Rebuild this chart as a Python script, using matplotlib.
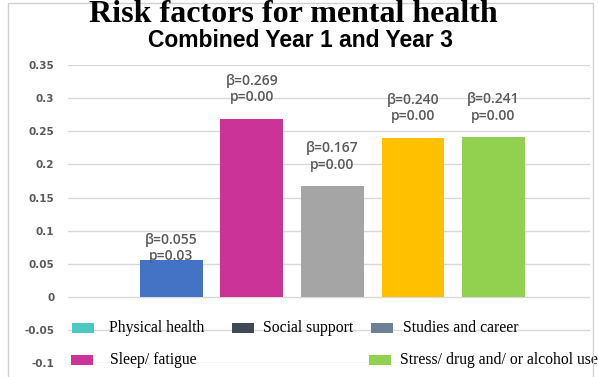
import matplotlib.pyplot as plt
from matplotlib.patches import Rectangle

# bar data (first slot "Physical health" has no bar)
values = [0.055, 0.269, 0.167, 0.240, 0.241]
betas = ["β=0.055", "β=0.269", "β=0.167", "β=0.240", "β=0.241"]
pvals = ["p=0.03", "p=0.00", "p=0.00", "p=0.00", "p=0.00"]
bar_colors = ["#4472C4", "#CC3399", "#A5A5A5", "#FFC000", "#92D050"]

legend_labels = ["Physical health", "Social support", "Studies and career",
                 "Sleep/ fatigue", "Stress/ drug and/ or alcohol use"]
legend_colors = ["#4BC9C0", "#3F4A56", "#6E8096", "#CC3399", "#92D050"]

yticks = [-0.1, -0.05, 0, 0.05, 0.1, 0.15, 0.2, 0.25, 0.3, 0.35]
ytick_labels = ["-0.1", "-0.05", "0", "0.05", "0.1", "0.15", "0.2", "0.25", "0.3", "0.35"]

fig = plt.figure(figsize=(5.98, 3.77), dpi=100)
ax = fig.add_axes([0.114, 0.037, 0.873, 0.790])

x = list(range(len(values)))
ax.bar(x, values, width=0.78, color=bar_colors, zorder=3)

ax.set_xlim(-1.28, 5.2)
ax.set_ylim(-0.1, 0.35)
ax.set_yticks(yticks)
ax.set_yticklabels(ytick_labels)
ax.set_xticks([])
ax.tick_params(axis='y', length=0, pad=10, labelsize=7.5, labelcolor="#595959")
for lab in ax.get_yticklabels():
    lab.set_fontweight("bold")
ax.grid(axis='y', color="#D9D9D9", linewidth=1, zorder=0)
for s in ax.spines.values():
    s.set_visible(False)

# annotations above bars
for i, v in enumerate(values):
    off = 9 if i == 0 else 21.5
    ax.annotate(betas[i] + "\n" + pvals[i], (i, v), xytext=(0, off),
                textcoords="offset points", ha="center", va="center",
                fontsize=10, color="#595959", fontweight="semibold",
                family=["Open Sans", "DejaVu Sans"],
                linespacing=1.2, zorder=4)

# legend drawn by hand: x in axes fraction, y in data units
trans = ax.get_yaxis_transform()
patch_x = [0.008, 0.314, 0.580, 0.006, 0.577]
text_x = [0.079, 0.374, 0.642, 0.080, 0.636]
leg_y = [-0.047, -0.047, -0.047, -0.095, -0.095]
for px, tx, ly, lab, c in zip(patch_x, text_x, leg_y, legend_labels, legend_colors):
    ax.add_patch(Rectangle((px, ly - 0.0075), 0.042, 0.015, transform=trans,
                           facecolor=c, edgecolor="none", zorder=5, clip_on=False))
    ax.text(tx, ly, lab, transform=trans, fontsize=11.3,
            family="Liberation Serif", va="center", zorder=6, clip_on=False)

# outer frame
fig.add_artist(Rectangle((8 / 598, -0.01), 585 / 598, 1 - 3 / 377 + 0.01,
                         transform=fig.transFigure, fill=False,
                         edgecolor="#D0D0D0", linewidth=1))

fig.text(0.491, 0.962, "Risk factors for mental health", ha="center", va="center",
         fontsize=23, fontweight="bold", family="Liberation Serif")
fig.text(0.502, 0.893, "Combined Year 1 and Year 3", ha="center", va="center",
         fontsize=16.5, fontweight="bold", family="Liberation Sans")

fig.savefig("out.png", dpi=100)
